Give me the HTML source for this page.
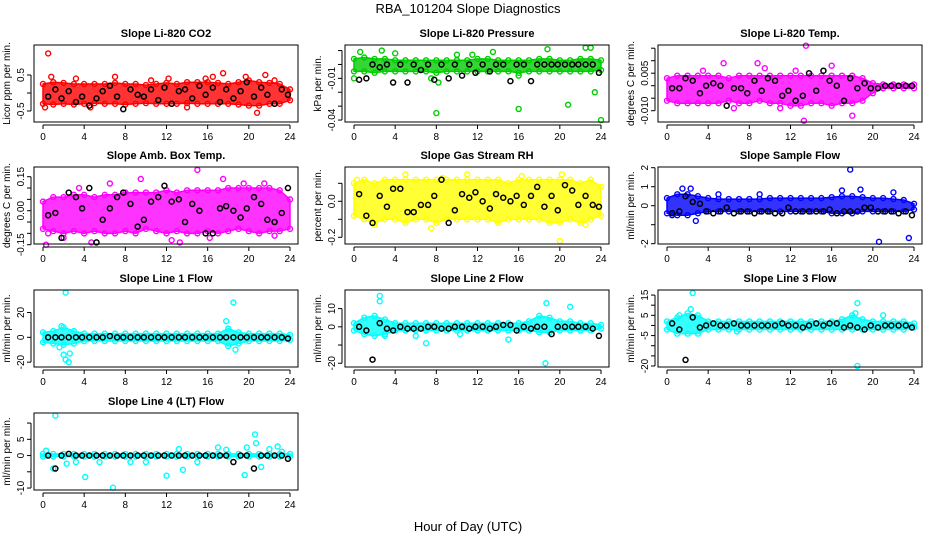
<!DOCTYPE html>
<html><head><meta charset="utf-8"><style>
html,body{margin:0;padding:0;background:#fff;}
svg{display:block;font-family:"Liberation Sans",sans-serif;}
</style></head><body>
<svg id="chart" width="936" height="540" viewBox="0 0 936 540" xmlns="http://www.w3.org/2000/svg">
<text x="468" y="13" text-anchor="middle" font-size="13">RBA_101204  Slope Diagnostics</text>
<text x="468" y="531" text-anchor="middle" font-size="13">Hour of Day (UTC)</text>
</svg>
<script>
// shared
const bandHours = [0,1,2,3,4,5,6,7,8,9,10,11,12,13,14,15,16,17,18,19,20,21,22,23,24];
const blackHours = [0.5,1.2,1.8,2.5,3.2,3.8,4.5,5.2,5.8,6.5,7.2,7.8,8.5,9.2,9.8,10.5,11.2,11.8,12.5,13.2,13.8,14.5,15.2,15.8,16.5,17.2,17.8,18.5,19.2,19.8,20.5,21.2,21.8,22.5,23.2,23.8];
const xTicks = [0,4,8,12,16,20,24];

// CO2
const co2Lo = [-0.3,-0.32,-0.3,-0.32,-0.3,-0.28,-0.3,-0.3,-0.32,-0.3,-0.28,-0.3,-0.3,-0.3,-0.28,-0.3,-0.3,-0.3,-0.3,-0.32,-0.35,-0.35,-0.3,-0.3,-0.2];
const co2Hi = [0.25,0.3,0.28,0.25,0.25,0.25,0.25,0.28,0.25,0.25,0.22,0.25,0.28,0.25,0.3,0.3,0.3,0.28,0.25,0.3,0.35,0.3,0.28,0.25,0.1];
const co2OutX = [0.5,0.2,0.8,3.2,7,12.2,15.8,16.5,17.5,19.7,20.8,21.6,4.6,22.5,10.5,14];
const co2OutY = [1.1,-0.4,0.45,0.4,0.45,0.4,0.4,0.45,0.55,0.45,-0.55,0.5,-0.4,0.35,0.35,-0.4];
const co2Black = [-0.1,0.1,-0.15,0.05,-0.25,-0.1,-0.35,-0.15,0.05,0.2,-0.1,-0.45,0.1,-0.05,-0.1,0.1,-0.2,0.15,-0.3,0.05,0.1,-0.15,0.2,-0.05,0.15,-0.25,0.1,-0.15,0.05,0.3,-0.1,0.15,-0.05,-0.3,0.1,-0.05];

// Pressure
const prsLo = [-0.005,-0.005,-0.006,-0.005,-0.005,-0.005,-0.005,-0.005,-0.006,-0.005,-0.005,-0.005,-0.005,-0.005,-0.005,-0.005,-0.006,-0.005,-0.005,-0.005,-0.005,-0.005,-0.005,-0.005,-0.004];
const prsHi = [0.004,0.005,0.004,0.004,0.003,0.003,0.003,0.003,0.003,0.003,0.003,0.003,0.004,0.004,0.003,0.003,0.003,0.003,0.004,0.004,0.003,0.003,0.004,0.004,0.003];
const prsOutX = [0.6,2.7,8,16,20.8,24,23.4,22.5,18.8,13.5,11.5,0,7.5,16,8.2,4,10,23];
const prsOutY = [0.009,0.01,-0.035,-0.032,-0.029,-0.04,-0.02,0.012,0.011,0.009,0.007,-0.01,-0.01,-0.008,-0.013,0.008,0.007,0.012];
const prsBlack = [-0.011,-0.01,0,-0.002,0,-0.013,0,-0.013,0,-0.004,0,-0.011,0,-0.01,0,-0.008,0,-0.006,0,-0.005,0,0,-0.012,0,0,-0.012,0,0,0,0,0,0,0,0,0,-0.006];

// Li-820 Temp
const tmpLo = [-0.006,-0.007,-0.007,-0.007,-0.007,-0.007,-0.006,-0.007,-0.007,-0.006,-0.007,-0.007,-0.008,-0.008,-0.007,-0.007,-0.008,-0.007,-0.007,-0.006,-0.003,-0.001,-0.001,-0.001,-0.001];
const tmpHi = [0.003,0.004,0.004,0.004,0.004,0.004,0.003,0.004,0.004,0.004,0.004,0.004,0.004,0.004,0.004,0.004,0.004,0.004,0.004,0.003,0.001,0.0005,0.0005,0.0005,0.0005];
const tmpOutX = [13.5,13.3,18,5.5,8.8,12.5,16,9.5,3.5,11,6.5];
const tmpOutY = [0.016,-0.014,-0.012,0.009,0.009,0.006,0.008,0.007,0.006,-0.009,-0.009];
const tmpBlack = [-0.001,-0.001,0.003,0.002,-0.003,0,0.001,0,-0.008,-0.001,-0.001,-0.003,0.002,-0.002,0.003,0.002,-0.004,-0.002,-0.006,-0.004,0.005,-0.002,0.006,0.002,0,-0.006,0.003,-0.001,0.001,-0.001,-0.001,0,0,0,0,0];

// Amb box temp
const ambLo = [-0.08,-0.09,-0.1,-0.09,-0.1,-0.09,-0.1,-0.1,-0.09,-0.1,-0.08,-0.09,-0.1,-0.09,-0.1,-0.1,-0.09,-0.1,-0.09,-0.08,-0.09,-0.1,-0.09,-0.09,-0.08];
const ambHi = [0.04,0.06,0.06,0.07,0.07,0.06,0.07,0.07,0.08,0.08,0.08,0.08,0.09,0.08,0.09,0.09,0.09,0.09,0.1,0.1,0.1,0.1,0.1,0.09,0.05];
const ambOutX = [0.3,0.5,2,4.7,15,17.5,19.5,21.5,12.5,9.5,13.3,16.2,22.5,3.5,6.5];
const ambOutY = [-0.15,-0.1,-0.12,-0.14,0.18,0.14,0.12,0.12,-0.13,0.14,-0.14,-0.12,-0.11,0.1,0.12];
const ambBlack = [-0.02,-0.01,-0.12,0.08,0.06,0.01,0.1,-0.14,-0.04,0.01,0.06,0.08,0.03,-0.07,-0.04,0.04,0.06,0.11,0.04,0.05,-0.05,0.03,0,-0.1,-0.1,0.01,0.02,0,-0.03,0.01,0.06,0.03,-0.04,-0.05,-0.01,0.1];

// Gas stream RH
const rhLo = [-0.08,-0.1,-0.12,-0.1,-0.1,-0.12,-0.1,-0.1,-0.12,-0.1,-0.1,-0.1,-0.1,-0.1,-0.12,-0.1,-0.1,-0.1,-0.1,-0.12,-0.12,-0.1,-0.12,-0.1,-0.08];
const rhHi = [0.1,0.12,0.1,0.12,0.12,0.12,0.12,0.12,0.12,0.12,0.12,0.12,0.12,0.12,0.12,0.1,0.12,0.12,0.12,0.12,0.12,0.12,0.1,0.12,0.08];
const rhOutX = [5,20,7.5,20.2,2,8.6,16.3,22.5,0.3,11];
const rhOutY = [0.15,-0.22,-0.15,0.15,-0.13,0.13,0.14,-0.13,0.12,0.15];
const rhBlack = [0.04,-0.08,-0.12,0.03,-0.03,0.07,0.07,-0.06,-0.06,-0.02,-0.02,0.03,0.12,-0.12,-0.05,0.04,0.02,0.05,0,-0.04,0.04,0.02,0,0.03,-0.02,0.03,0.08,-0.03,0.03,-0.05,0.09,0.06,-0.02,0.03,-0.02,-0.03];

// Sample flow
const sfLo = [-0.4,-0.5,-0.5,-0.4,-0.3,-0.3,-0.3,-0.3,-0.3,-0.3,-0.3,-0.3,-0.3,-0.3,-0.3,-0.3,-0.4,-0.4,-0.4,-0.3,-0.3,-0.3,-0.3,-0.3,-0.2];
const sfHi = [0.4,0.6,0.6,0.5,0.4,0.35,0.35,0.35,0.35,0.35,0.4,0.4,0.4,0.4,0.4,0.4,0.45,0.5,0.5,0.45,0.4,0.4,0.35,0.3,0.1];
const sfOutX = [17.8,20.6,23.5,18.8,1.5,2.3,0.5,17,22,5,9,2.8];
const sfOutY = [1.9,-1.9,-1.7,0.85,0.9,0.9,-0.5,0.8,0.7,0.6,0.6,-0.8];
const sfBlack = [-0.4,-0.3,0.5,0.2,0.1,-0.3,-0.4,-0.3,-0.1,-0.4,-0.3,-0.3,-0.4,-0.3,-0.3,-0.4,-0.4,-0.1,-0.3,-0.3,-0.3,-0.3,-0.3,-0.2,-0.4,-0.3,-0.3,-0.3,-0.1,-0.1,-0.3,-0.3,-0.3,-0.4,-0.3,-0.5];

// Line 1 flow
const l1Lo = [-4,-5,-6,-5,-3,-3,-3,-3,-3,-3,-3,-3,-3,-3,-3,-3,-3,-3,-7,-5,-3,-3,-3,-3,-2];
const l1Hi = [4,5,8,5,3,3,3,3,3,3,3,3,3,3,3,3,3,3,7,4,3,3,3,3,2];
const l1OutX = [2.2,18.5,17.8,2,2.2,2.5,2.6,18.7,1.6,1.8];
const l1OutY = [36,28,13,-14,-18,-20,-13,-10,-8,9];
const l1Black = [0,0,0,0,0,0,0,0,0,1,0,0,0,0,0,0,0,0,0,0,0,0,0,0,0,0,0,0,0,0,0,0,0,0,0,-1];

// Line 2 flow
const l2Lo = [-2,-4,-5,-4,-2,-2,-2,-2,-2,-2,-2,-2,-2,-2,-2,-2,-2,-2,-3,-3,-2,-2,-2,-2,-1];
const l2Hi = [2,5,6,4,2,2,2,2,2,2,2,2,2,2,2,2,2,3,6,5,3,3,2,2,1];
const l2OutX = [2.5,2.5,7,18.6,18.7,21,15,3,6,10.3];
const l2OutY = [17,14,-9,-20,13,11,-7,-5,-5,-4];
const l2Black = [0,-2,-18,2,-1,-2,0,-1,-1,-1,0,0,-1,-1,0,0,-1,0,0,-1,0,1,1,-2,0,-1,0,0,-4,0,0,0,0,0,-1,-5];

// Line 3 flow
const l3Lo = [-2,-4,-4,-4,-2,-2,-2,-2,-2,-2,-2,-2,-2,-2,-2,-2,-2,-2,-2,-2,-2,-2,-2,-2,-1];
const l3Hi = [2,4,6,5,2,2,2,2,2,2,2,2,2,2,2,2,2,3,5,3,2,2,2,2,1];
const l3OutX = [2.5,18.5,18.5,2.3,21,18.3,6.8,1.2];
const l3OutY = [16,-20,11,8,5,6,-3,5];
const l3Black = [1,-2,-17,4,-1,0,1,0,0,1,0,0,0,0,0,0,1,0,0,-1,0,1,0,1,1,-1,0,-1,-2,0,-1,0,0,0,0,-1];

// Line 4 flow
const l4Lo = [-0.3,-0.3,-0.3,-0.3,-0.3,-0.3,-0.3,-0.3,-0.3,-0.3,-0.3,-0.3,-0.3,-0.3,-0.3,-0.3,-0.3,-0.3,-0.3,-0.3,-0.3,-0.3,-0.3,-0.3,-0.3];
const l4Hi = [0.5,0.5,0.5,0.5,0.5,0.5,0.5,0.5,0.5,0.5,0.5,0.5,0.5,0.5,0.5,0.5,0.5,0.5,0.5,0.5,0.5,0.5,0.5,0.5,0.5];
const l4OutX = [1.2,0.3,1,4.1,6.8,12,13.6,19.6,20.6,20.7,19.8,2.3,3.2,5.5,8.5,10,13.2,17,17.8,22,22.8,23.2,21.2,15];
const l4OutY = [12.3,1.5,-4,-6.6,-9.9,-6.2,-4.4,-6,6.5,3.8,2.5,-2.5,-2,-2,-2,-2,2,2.5,1.8,2,2.8,1.2,-3.5,-2];
const l4Black = [0,-4,0,0.5,0,0,0,0,0,0,0,0,0,0,0,0,0,0,0,0,0,0,0,0,0,0,0,-2,0,0,-4,0,0,0,0,-1];

const panels = [
 {name:'co2', title:'Slope Li-820 CO2', ylab:'Licor ppm per min.', col:0,row:0, color:'#ff0000', ymin:-0.806,ymax:1.333, yTicks:[-0.5,0,0.5], yLabels:['-0.5','','0.5'], lo:co2Lo,hi:co2Hi,ox:co2OutX,oy:co2OutY,bk:co2Black},
 {name:'pressure', title:'Slope Li-820 Pressure', ylab:'kPa per min.', col:1,row:0, color:'#00cc00', ymin:-0.0414,ymax:0.0140, yTicks:[0.01,0,-0.01,-0.02,-0.03,-0.04], yLabels:['','','-0.01','','','-0.04'], lo:prsLo,hi:prsHi,ox:prsOutX,oy:prsOutY,bk:prsBlack},
 {name:'li820-temp', title:'Slope Li-820 Temp.', ylab:'degrees C per min.', col:2,row:0, color:'#ff00ff', ymin:-0.01452,ymax:0.01628, yTicks:[0.015,0.01,0.005,0,-0.005,-0.01], yLabels:['','','0.005','','','-0.010'], lo:tmpLo,hi:tmpHi,ox:tmpOutX,oy:tmpOutY,bk:tmpBlack},
 {name:'amb-box-temp', title:'Slope Amb. Box Temp.', ylab:'degrees C per min.', col:0,row:1, color:'#ff00ff', ymin:-0.1469,ymax:0.1928, yTicks:[0.15,0.1,0.05,0,-0.05,-0.1,-0.15], yLabels:['0.15','','','0.00','','','-0.15'], lo:ambLo,hi:ambHi,ox:ambOutX,oy:ambOutY,bk:ambBlack},
 {name:'gas-stream-rh', title:'Slope Gas Stream RH', ylab:'percent per min.', col:1,row:1, color:'#ffff00', ymin:-0.2372,ymax:0.1906, yTicks:[0.1,0,-0.1,-0.2], yLabels:['','0.0','','-0.2'], lo:rhLo,hi:rhHi,ox:rhOutX,oy:rhOutY,bk:rhBlack},
 {name:'sample-flow', title:'Slope Sample Flow', ylab:'ml/min per min.', col:2,row:1, color:'#0000ff', ymin:-2.016,ymax:2.037, yTicks:[2,1,0,-1,-2], yLabels:['2','1','0','','-2'], lo:sfLo,hi:sfHi,ox:sfOutX,oy:sfOutY,bk:sfBlack},
 {name:'line1-flow', title:'Slope Line 1 Flow', ylab:'ml/min per min.', col:0,row:2, color:'#00ffff', ymin:-23.9,ymax:38.1, yTicks:[20,0,-20], yLabels:['20','0','-20'], lo:l1Lo,hi:l1Hi,ox:l1OutX,oy:l1OutY,bk:l1Black},
 {name:'line2-flow', title:'Slope Line 2 Flow', ylab:'ml/min per min.', col:1,row:2, color:'#00ffff', ymin:-22.06,ymax:20.2, yTicks:[10,0,-10,-20], yLabels:['10','0','','-20'], lo:l2Lo,hi:l2Hi,ox:l2OutX,oy:l2OutY,bk:l2Black},
 {name:'line3-flow', title:'Slope Line 3 Flow', ylab:'ml/min per min.', col:2,row:2, color:'#00ffff', ymin:-20.5,ymax:17.5, yTicks:[15,10,5,0,-5,-10,-15,-20], yLabels:['15','','5','','-5','','','-20'], lo:l3Lo,hi:l3Hi,ox:l3OutX,oy:l3OutY,bk:l3Black},
 {name:'line4-lt-flow', title:'Slope Line 4 (LT) Flow', ylab:'ml/min per min.', col:0,row:3, color:'#00ffff', ymin:-10.6,ymax:13.1, yTicks:[10,5,0,-5,-10], yLabels:['','5','0','','-10'], lo:l4Lo,hi:l4Hi,ox:l4OutX,oy:l4OutY,bk:l4Black}
];

const NS='http://www.w3.org/2000/svg';
const svg=document.getElementById('chart');
const colLeft=[34,345,658], rowTop=[45,167,290,413], W=264, H=77;
function mk(tag,attrs,parent){const e=document.createElementNS(NS,tag);for(const k in attrs)e.setAttribute(k,attrs[k]);(parent||svg).appendChild(e);return e;}

panels.forEach(p=>{
  const L=colLeft[p.col], T=rowTop[p.row], B=T+H;
  const xs=h=>L+9+h*(247/24);
  const ys=v=>B-(v-p.ymin)/(p.ymax-p.ymin)*H;
  const g=mk('g',{});
  
  
  const t=mk('text',{x:L+W/2,y:T-8,'text-anchor':'middle','font-size':11,'font-weight':'bold'},g);
  t.textContent=p.title;
  
  
  let d='';
  bandHours.forEach((h,i)=>{d+=(i?'L':'M')+xs(h).toFixed(1)+','+ys(p.hi[i]).toFixed(1);});
  for(let i=bandHours.length-1;i>=0;i--)d+='L'+xs(bandHours[i]).toFixed(1)+','+ys(p.lo[i]).toFixed(1);
  const band=mk('path',{d:d+'Z',fill:p.color,'fill-opacity':0.8,stroke:p.color,'stroke-width':1.5,'stroke-linejoin':'round'},g);
  
  
  bandHours.forEach((h,i)=>{
    [p.hi[i],p.lo[i]].forEach(v=>{
      const c=mk('circle',{cx:xs(h),cy:ys(v),r:2.5,fill:'none',stroke:p.color,'stroke-width':1.4},g);
      
      
    });
  });
  p.ox.forEach((h,i)=>{
    const c=mk('circle',{cx:xs(h),cy:ys(p.oy[i]),r:2.5,fill:'none',stroke:p.color,'stroke-width':1.4},g);
    
    
  });
  blackHours.forEach((h,i)=>{
    const c=mk('circle',{cx:xs(h),cy:ys(p.bk[i]),r:2.5,fill:'none',stroke:'#000','stroke-width':1.5},g);
    
    
  });
  const box=mk('rect',{x:L,y:T,width:W,height:H,fill:'none',stroke:'#000','stroke-width':1},g);
  
  
  mk('line',{x1:xs(0),x2:xs(24),y1:B+3,y2:B+3,stroke:'#000'},g);
  xTicks.forEach(h=>{
    mk('line',{x1:xs(h),x2:xs(h),y1:B+3,y2:B+7,stroke:'#000'},g);
    const tl=mk('text',{x:xs(h),y:B+18,'text-anchor':'middle','font-size':10},g);
    tl.textContent=h;
    
    
  });
  const yt=p.yTicks;
  mk('line',{x1:L-3,x2:L-3,y1:ys(Math.max(...yt)),y2:ys(Math.min(...yt)),stroke:'#000'},g);
  yt.forEach((v,i)=>{
    mk('line',{x1:L-7,x2:L-3,y1:ys(v),y2:ys(v),stroke:'#000'},g);
    if(p.yLabels[i]){
      const yl=mk('text',{x:L-10,y:ys(v),'text-anchor':'middle','font-size':10,transform:'rotate(-90 '+(L-10)+' '+ys(v)+')'},g);
      yl.textContent=p.yLabels[i];
      
      
    }
  });
  const ya=mk('text',{x:L-24,y:T+H/2,'text-anchor':'middle','font-size':10,transform:'rotate(-90 '+(L-24)+' '+(T+H/2)+')'},g);
  ya.textContent=p.ylab;
  
  
});
</script>
</body></html>
